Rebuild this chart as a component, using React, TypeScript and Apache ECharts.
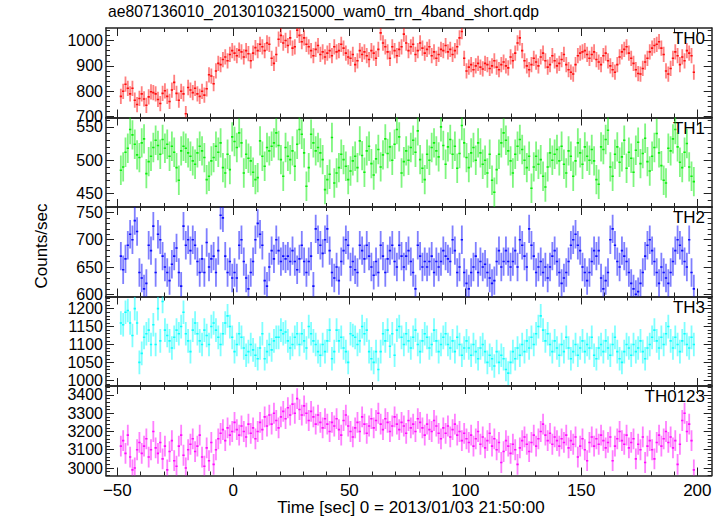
import React, { useEffect, useRef } from "react";
import * as echarts from "echarts";

const TITLE = "ae807136010_20130103215000_wam0_trn_4band_short.qdp";
const X_TITLE = "Time [sec] 0 = 2013/01/03 21:50:00";
const Y_TITLE = "Counts/sec";

const panelNames = ["TH0", "TH1", "TH2", "TH3", "TH0123"];
const panelColors = ["#ff0000", "#00ee00", "#0000ff", "#00ffff", "#ff00ff"];

// 1-s bins, first bin centred at -48.5 s
const binStart = -48.5;
const binWidth = 1;

const th0 = [
  780, 800, 828, 812, 790, 812, 765, 748, 772, 790,
  770, 745, 778, 798, 795, 790, 768, 752, 792, 802,
  780, 760, 805, 835, 792, 765, 800, 790, 712, 815,
  805, 795, 812, 790, 780, 800, 785, 810, 865, 860,
  830, 880, 910, 905, 925, 935, 920, 945, 960, 950,
  940, 962, 955, 935, 960, 948, 920, 950, 972, 960,
  985, 975, 960, 990, 985, 930, 910, 945, 1005, 1020,
  990, 1000, 980, 1010, 970, 975, 1040, 1020, 995, 1010,
  985, 975, 960, 940, 965, 980, 945, 955, 935, 950,
  960, 940, 975, 955, 960, 985, 970, 950, 935, 930,
  945, 905, 920, 960, 945, 955, 940, 925, 960, 950,
  930, 965, 1030, 990, 975, 955, 930, 975, 960, 940,
  965, 975, 1025, 990, 960, 975, 985, 945, 960, 990,
  970, 950, 965, 975, 940, 955, 930, 945, 965, 960,
  980, 955, 965, 945, 960, 975, 1010, 1035, 930, 880,
  895, 905, 885, 900, 910, 895, 888, 910, 905, 890,
  900, 920, 895, 885, 905, 915, 900, 892, 935, 920,
  950, 990, 1010, 960, 920, 900, 885, 905, 930, 915,
  900, 935, 950, 920, 895, 905, 940, 920, 900, 910,
  925, 945, 905, 885, 875, 868, 905, 940, 950, 955,
  960, 945, 930, 945, 955, 925, 915, 905, 940, 950,
  920, 900, 885, 875, 905, 935, 955, 965, 975, 950,
  930, 910, 885, 870, 868, 890, 915, 930, 955, 970,
  980, 985, 995, 970, 945, 880, 868, 890, 930, 955,
  940, 905, 935, 920, 960, 950, 940, 875,
];

const th1 = [
  485, 490, 512, 518, 546, 538, 524, 508, 504, 526,
  532, 480, 498, 506, 519, 530, 522, 509, 531, 518,
  524, 506, 521, 512, 489, 470, 514, 521, 518, 511,
  506, 499, 494, 511, 521, 514, 504, 471, 476, 499,
  504, 521, 512, 526, 489, 481, 509, 486, 535, 528,
  519, 541, 526, 481, 509, 503, 499, 482, 471, 474,
  529, 506, 491, 519, 514, 521, 526, 541, 522, 501,
  476, 519, 506, 501, 514, 491, 524, 546, 539, 511,
  461, 489, 539, 526, 514, 519, 511, 501, 456, 471,
  479, 534, 466, 481, 489, 509, 501, 491, 471, 484,
  499, 506, 489, 529, 507, 482, 514, 521, 495, 478,
  502, 516, 490, 508, 532, 510, 520, 500, 524, 546,
  535, 481, 498, 514, 500, 519, 530, 512, 544, 501,
  488, 471, 509, 500, 519, 526, 514, 505, 550, 522,
  494, 520, 531, 509, 521, 488, 510, 552, 526, 504,
  489, 511, 519, 500, 526, 511, 494, 500, 481, 509,
  470, 452, 486, 509, 526, 541, 530, 514, 499, 481,
  509, 521, 531, 516, 500, 489, 506, 458, 490, 506,
  494, 501, 476, 460, 490, 511, 500, 509, 516, 499,
  521, 494, 481, 514, 506, 476, 499, 526, 511, 494,
  520, 506, 500, 516, 499, 471, 464, 520, 516, 531,
  545, 490, 476, 509, 520, 497, 505, 530, 488, 512,
  503, 482, 515, 527, 495, 510, 533, 498, 484, 506,
  519, 540, 511, 492, 470, 466, 518, 514, 532, 546,
  520, 497, 489, 512, 525, 490, 476, 468,
];

const th2 = [
  670, 645, 665, 690, 710, 700, 735, 715, 640, 630,
  610, 620, 690, 680, 725, 640, 710, 700, 670, 650,
  640, 625, 655, 670, 685, 640, 615, 725, 690, 700,
  680, 700, 690, 660, 640, 665, 640, 695, 650, 665,
  670, 640, 680, 745, 740, 670, 640, 660, 630, 640,
  630, 690, 700, 660, 630, 610, 640, 660, 700, 730,
  710, 690, 625, 615, 650, 680, 665, 700, 680, 660,
  670, 665, 670, 660, 680, 660, 645, 665, 690, 660,
  640, 660, 670, 615, 720, 700, 690, 675, 700, 720,
  680, 640, 630, 650, 625, 660, 680, 700, 690, 650,
  660, 645, 640, 690, 680, 665, 690, 670, 650, 635,
  660, 640, 690, 670, 640, 665, 680, 690, 660, 650,
  690, 670, 650, 670, 680, 660, 640, 610, 690, 670, 650,
  660, 650, 660, 670, 640, 660, 650, 660, 680, 670, 665, 660, 700, 680, 640,
  650, 700, 640, 620, 610, 640, 650, 670, 640, 660,
  650, 655, 640, 630, 620, 625, 660, 680, 650, 660,
  680, 660, 650, 660, 680, 650, 700, 690, 670, 650,
  720, 690, 670, 640, 650, 660, 640, 650, 630, 650,
  670, 680, 660, 640, 620, 630, 640, 660, 690, 700,
  710, 690, 680, 650, 640, 625, 640, 660, 680, 670,
  680, 630, 610, 625, 640, 700, 720, 690, 660, 650,
  680, 670, 660, 640, 620, 610, 600, 605, 620, 640,
  670, 690, 700, 680, 660, 640, 620, 650, 640, 630,
  620, 640, 660, 680, 700, 690, 680, 660, 650, 700, 640, 610,
];

const th3 = [
  1160, 1155, 1190, 1195, 1160, 1125, 1200, 1160, 1050, 1075,
  1120, 1130, 1140, 1100, 1155, 1100, 1200, 1110, 1220, 1140,
  1125, 1110, 1090, 1120, 1140, 1130, 1150, 1190, 1130, 1110,
  1080, 1140, 1160, 1130, 1110, 1100, 1140, 1125, 1100, 1150,
  1160, 1140, 1120, 1100, 1130, 1160, 1180, 1150, 1120, 1080,
  1100, 1130, 1120, 1090, 1070, 1080, 1100, 1085, 1070, 1060,
  1090, 1130, 1060, 1080, 1100, 1085, 1110, 1120, 1120, 1140,
  1130, 1135, 1110, 1090, 1100, 1120, 1130, 1100, 1130, 1110,
  1090, 1150, 1130, 1110, 1100, 1080, 1070, 1100, 1080, 1110,
  1140, 1060, 1080, 1140, 1110, 1120, 1090, 1080, 1050, 1130,
  1125, 1120, 1100, 1110, 1150, 1130, 1140, 1080, 1060, 1050,
  1080, 1030, 1080, 1130, 1110, 1140, 1095, 1130, 1070, 1140,
  1150, 1120, 1100, 1130, 1110, 1090, 1120, 1140, 1100, 1080,
  1110, 1130, 1120, 1090, 1100, 1140, 1110, 1080, 1100, 1120,
  1130, 1100, 1090, 1110, 1080, 1120, 1100, 1070, 1090, 1110,
  1090, 1070, 1100, 1080, 1060, 1090, 1100, 1080, 1050, 1070,
  1060, 1040, 1080, 1050, 1070, 1060, 1030, 1020, 1050, 1080,
  1060, 1090, 1070, 1100, 1080, 1110, 1090, 1120, 1100, 1130,
  1150, 1180, 1140, 1110, 1130, 1100, 1080, 1110, 1090, 1070,
  1100, 1080, 1120, 1090, 1060, 1080, 1100, 1070, 1090, 1110,
  1080, 1100, 1090, 1120, 1070, 1060, 1090, 1100, 1080, 1110,
  1090, 1070, 1100, 1120, 1080, 1060, 1050, 1080, 1100, 1090,
  1070, 1100, 1080, 1090, 1110, 1080, 1060, 1090, 1100, 1120,
  1140, 1110, 1090, 1120, 1100, 1130, 1150, 1110, 1090, 1120,
  1100, 1080, 1110, 1130, 1100, 1090, 1120, 1100,
];

const th0123 = [
  3120, 3150, 3080, 3180, 3060, 2990, 3000, 3100, 3140, 3080,
  3120, 3160, 3060, 3100, 3200, 3110, 3080, 3140, 3050, 3120,
  2990, 3090, 3150, 3040, 3010, 3120, 3180, 3070, 3000, 3100,
  3130, 3160, 3090, 3120, 3180, 3060, 3010, 3110, 3040, 3140,
  3020, 3100, 3160, 3190, 3210, 3150, 3220, 3180, 3200, 3250,
  3210, 3180, 3230, 3200, 3170, 3240, 3190, 3220, 3160, 3200,
  3250, 3210, 3280, 3230, 3290, 3240, 3300, 3260, 3220, 3280,
  3310, 3270, 3330, 3290, 3350, 3300, 3380, 3320, 3290, 3340,
  3300, 3260, 3310, 3280, 3240, 3290, 3250, 3220, 3270, 3240,
  3200, 3250, 3230, 3270, 3210, 3180, 3260, 3290, 3230, 3200,
  3170, 3220, 3250, 3200, 3280, 3240, 3190, 3230, 3270, 3220,
  3260, 3300, 3240, 3210, 3270, 3250, 3200, 3230, 3280, 3240,
  3210, 3250, 3230, 3190, 3260, 3220, 3240, 3200, 3270, 3250,
  3220, 3180, 3240, 3210, 3200, 3260, 3230, 3190, 3160, 3220,
  3190, 3230, 3170, 3210, 3240, 3180, 3200, 3150, 3190, 3160,
  3140, 3180, 3120, 3160, 3200, 3130, 3170, 3110, 3150, 3190,
  3120, 3160, 3100, 3140, 3030, 3090, 3150, 3120, 3080, 3130,
  3100, 3020, 3110, 3150, 3170, 3130, 3090, 3140, 3180, 3120,
  3160, 3200, 3240, 3180, 3150, 3190, 3130, 3170, 3150, 3120,
  3160, 3140, 3180, 3110, 3150, 3130, 3170, 3060, 3120, 3160,
  3100, 3040, 3140, 3170, 3120, 3160, 3130, 3180, 3150, 3110,
  3140, 3170, 3040, 3120, 3160, 3200, 3150, 3130, 3180, 3110,
  3140, 3160, 3050, 3130, 3100, 3170, 3030, 3120, 3150, 3100,
  3050, 3140, 3180, 3120, 3160, 3200, 3140, 3170, 3110, 3150,
  3020, 3130, 3260, 3300, 3200, 3240, 3150, 2990,
];

const panelValues = [th0, th1, th2, th3, th0123];
const errHalf = [30, 22, 26, 33, 57];

const yMin = [697, 430, 596, 984, 2959];
const yMax = [1049, 564, 760, 1234, 3449];
const yMajor = [
  [700, 800, 900, 1000],
  [450, 500, 550],
  [600, 650, 700, 750],
  [1000, 1050, 1100, 1150, 1200],
  [3000, 3100, 3200, 3300, 3400],
];
const yMinorStep = [20, 10, 10, 10, 20];

const xMin = -54.9;
const xMax = 206.2;
const xMajor = [-50, 0, 50, 100, 150, 200];
const xMinorStep = 10;

function stepTicks(lo: number, hi: number, step: number) {
  const out: number[] = [];
  for (let v = Math.ceil(lo / step) * step; v <= hi + 1e-9; v += step) {
    out.push(Math.round(v * 1000) / 1000);
  }
  return out;
}

const FONT = "'Liberation Sans', Arial, Helvetica, sans-serif";
const AX = "#222";

export default function App() {
  const ref = useRef<HTMLDivElement>(null);
  useEffect(() => {
    if (!ref.current) return;
    const chart = echarts.init(ref.current, null, { renderer: "svg" });
    const left = 106;
    const width = 605.7;
    const top0 = 28;
    const ph = 89.5;
    const grids: any[] = [];
    const xAxes: any[] = [];
    const yAxes: any[] = [];
    const series: any[] = [];
    const graphics: any[] = [];
    const xMinor = stepTicks(xMin, xMax, xMinorStep);

    panelValues.forEach((vals, k) => {
      const top = top0 + k * ph;
      grids.push({ left, width, top, height: ph, containLabel: false });
      const isLast = k === panelValues.length - 1;
      const mkX = (pos: string, ticks: number[], len: number, line: boolean, labels: boolean) => ({
        type: "value",
        gridIndex: k,
        position: pos,
        min: xMin,
        max: xMax,
        axisLine: { show: line, onZero: false, lineStyle: { color: AX, width: 1.5 } },
        axisTick: { show: true, inside: true, length: len, customValues: ticks, lineStyle: { color: AX, width: 1 } },
        axisLabel: labels
          ? {
              show: true,
              customValues: xMajor,
              fontSize: 17,
              color: "#000",
              fontFamily: FONT,
              margin: 6,
              formatter: (v: number) => String(v).replace("-", "\u2212"),
            }
          : { show: false },
        splitLine: { show: false },
      });
      xAxes.push(mkX("bottom", xMajor, 8, true, isLast));
      xAxes.push(mkX("top", xMajor, 8, true, false));
      xAxes.push(mkX("bottom", xMinor, 4, false, false));
      xAxes.push(mkX("top", xMinor, 4, false, false));

      const yMinor = stepTicks(yMin[k], yMax[k], yMinorStep[k]);
      const mkY = (pos: string, ticks: number[], len: number, line: boolean, labels: boolean) => ({
        type: "value",
        gridIndex: k,
        position: pos,
        min: yMin[k],
        max: yMax[k],
        axisLine: { show: line, onZero: false, lineStyle: { color: AX, width: 1.5 } },
        axisTick: { show: true, inside: true, length: len, customValues: ticks, lineStyle: { color: AX, width: 1 } },
        axisLabel: labels
          ? {
              show: true,
              customValues: yMajor[k],
              fontSize: 16,
              color: "#000",
              fontFamily: FONT,
              margin: 3,
              formatter: (v: number) => String(v),
            }
          : { show: false },
        splitLine: { show: false },
      });
      yAxes.push(mkY("left", yMajor[k], 8, true, true));
      yAxes.push(mkY("right", yMajor[k], 8, true, false));
      yAxes.push(mkY("left", yMinor, 4, false, false));
      yAxes.push(mkY("right", yMinor, 4, false, false));

      const color = panelColors[k];
      const e = errHalf[k];
      series.push({
        type: "custom",
        xAxisIndex: k * 4,
        yAxisIndex: k * 4,
        clip: true,
        silent: true,
        data: vals.map((v, i) => [binStart + i * binWidth, v]),
        renderItem: (_params: any, api: any) => {
          const t = api.value(0);
          const v = api.value(1);
          const a = api.coord([t - binWidth / 2, v]);
          const b = api.coord([t + binWidth / 2, v]);
          const c = api.coord([t, v + e]);
          const d = api.coord([t, v - e]);
          return {
            type: "group",
            children: [
              { type: "line", shape: { x1: c[0], y1: c[1], x2: d[0], y2: d[1] }, style: { stroke: color, lineWidth: 1.8, opacity: 0.5 } },
              { type: "line", shape: { x1: a[0], y1: a[1], x2: b[0], y2: b[1] }, style: { stroke: color, lineWidth: 1.6, opacity: 0.9 } },
            ],
          };
        },
      });

      graphics.push({
        type: "text",
        right: 724 - 705,
        top: top + 2,
        style: { text: panelNames[k], fontSize: 17, fill: "#000", fontFamily: FONT },
      });
    });

    graphics.push({
      type: "text",
      left: 108,
      top: 3,
      style: { text: TITLE, fontSize: 15.7, fill: "#000", fontFamily: FONT },
    });
    graphics.push({
      type: "text",
      x: 411,
      y: 507,
      style: { text: X_TITLE, fontSize: 17, fill: "#000", fontFamily: FONT, align: "center", verticalAlign: "middle" },
    });
    graphics.push({
      type: "text",
      x: 41,
      y: 246,
      rotation: Math.PI / 2,
      style: { text: Y_TITLE, fontSize: 17, fill: "#000", fontFamily: FONT, align: "center", verticalAlign: "middle" },
    });

    chart.setOption({
      animation: false,
      backgroundColor: "#fff",
      grid: grids,
      xAxis: xAxes,
      yAxis: yAxes,
      series,
      graphic: graphics,
    });
    return () => chart.dispose();
  }, []);
  return (
    <div
      ref={ref}
      style={{ position: "fixed", left: 0, top: 0, width: 724, height: 516, background: "#fff" }}
    />
  );
}
